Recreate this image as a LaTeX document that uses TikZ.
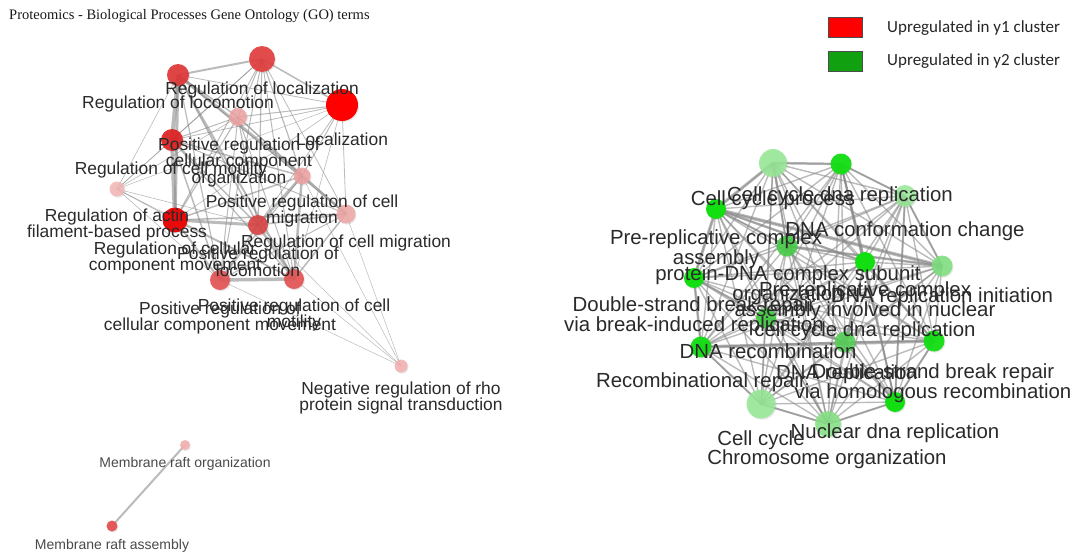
\documentclass[tikz,border=0pt]{standalone}
\usepackage{fontspec}
\setmainfont{Liberation Sans}
\newfontfamily\titlefont{Liberation Serif}
\newfontfamily\legfont{Carlito}
\usetikzlibrary{shadows}
\pgfdeclarelayer{bg}
\pgfdeclarelayer{edges}
\pgfsetlayers{bg,edges,main}
\definecolor{lbl}{HTML}{2A2A2A}
\definecolor{egray}{HTML}{8A8A8A}
\definecolor{rA}{HTML}{E23A3A}
\definecolor{rB}{HTML}{E03434}
\definecolor{rC}{HTML}{FF0000}
\definecolor{rD}{HTML}{EFA3A3}
\definecolor{rE}{HTML}{DE1E1E}
\definecolor{rF}{HTML}{EDA0A0}
\definecolor{rG}{HTML}{F4B6B6}
\definecolor{rH}{HTML}{E80A0A}
\definecolor{rI}{HTML}{D84444}
\definecolor{rJ}{HTML}{F0A6A6}
\definecolor{rK}{HTML}{E45252}
\definecolor{rM}{HTML}{F4B0B0}
\definecolor{gL}{HTML}{94E894}
\definecolor{gM}{HTML}{40CC40}
\definecolor{gS}{HTML}{12DE12}
\definecolor{legred}{HTML}{FF0000}
\definecolor{leggreen}{HTML}{10A010}
\newcommand{\fL}{\fontsize{17.4}{16.5}\selectfont}
\newcommand{\fR}{\fontsize{20.4}{19}\selectfont}
\newcommand{\fS}{\fontsize{14}{16}\selectfont}
\begin{document}
\begin{tikzpicture}[x=1pt,y=-1pt,
  vtx/.style={circle,inner sep=0pt,draw=none,minimum size=#1,
    drop shadow={shadow xshift=1pt,shadow yshift=-1.2pt,opacity=0.18}},
  edgeline/.style={draw=egray,draw opacity=0.58,line width=#1},
  lblL/.style={font=\fL,text=lbl,align=center,inner sep=0pt},
  lblR/.style={font=\fR,text=lbl,align=center,inner sep=0pt},
  lblS/.style={font=\fS,text=lbl!85,align=center,inner sep=0pt},
  legbox/.style={minimum width=34pt,minimum height=20pt,inner sep=0pt,draw=black!70,line width=0.4pt},
  legtxt/.style={font=\legfont\fontsize{17}{19}\selectfont,text=black!85,anchor=west,inner sep=0pt}]
\begin{pgfonlayer}{bg}
\fill[white] (0,0) rectangle (1078,554);
\end{pgfonlayer}
\useasboundingbox (0,0) rectangle (1078,554);

% title
\node[font=\titlefont\fontsize{14.5}{16}\selectfont,anchor=west,inner sep=0pt,text=black!90] (title) at (9,16) {Proteomics - Biological Processes Gene Ontology (GO) terms};

% legend
\node[legbox,fill=legred] (lr) at (845,27) {};
\node[legbox,fill=leggreen] (lg) at (845,61) {};
\node[legtxt] (lrt) at (887,28) {Upregulated in y1 cluster};
\node[legtxt] (lgt) at (887,61) {Upregulated in y2 cluster};

% left cluster nodes
\node[vtx=26pt,fill=rA,fill opacity=0.9] (A) at (262,59) {};
\node[vtx=22pt,fill=rB,fill opacity=0.9] (B) at (178,75) {};
\node[vtx=32pt,fill=rC] (C) at (342,105) {};
\node[vtx=18pt,fill=rD,fill opacity=0.85] (D) at (238,117) {};
\node[vtx=22pt,fill=rE,fill opacity=0.9] (E) at (172,140) {};
\node[vtx=17pt,fill=rF,fill opacity=0.85] (F) at (302,176) {};
\node[vtx=15pt,fill=rG,fill opacity=0.85] (G) at (117,189) {};
\node[vtx=25pt,fill=rH] (H) at (175,220) {};
\node[vtx=20pt,fill=rI,fill opacity=0.9] (I) at (258,225) {};
\node[vtx=19pt,fill=rJ,fill opacity=0.85] (J) at (346,214) {};
\node[vtx=20pt,fill=rK,fill opacity=0.9] (K) at (220,280) {};
\node[vtx=20pt,fill=rK,fill opacity=0.9] (L) at (294,279) {};
\node[vtx=13pt,fill=rM,fill opacity=0.85] (M) at (401,366) {};
\node[vtx=10pt,fill=rM,fill opacity=0.9] (N) at (185,445) {};
\node[vtx=11pt,fill=rK,fill opacity=0.95] (O) at (112,526) {};

% right cluster nodes
\node[vtx=28pt,fill=gL,fill opacity=0.85] (R1) at (773,163) {};
\node[vtx=21pt,fill=gS,fill opacity=0.95] (R2) at (841,164) {};
\node[vtx=22pt,fill=gL,fill opacity=0.8] (R3) at (905,196) {};
\node[vtx=20pt,fill=gS] (R4) at (716,209) {};
\node[vtx=21pt,fill=gM,fill opacity=0.85] (R5) at (787,246) {};
\node[vtx=20pt,fill=gS] (R6) at (865,262) {};
\node[vtx=21pt,fill=gL!70!gM,fill opacity=0.85] (R7) at (942,266) {};
\node[vtx=20pt,fill=gS] (R8) at (694,278) {};
\node[vtx=20pt,fill=gM,fill opacity=0.9] (R9) at (766,318) {};
\node[vtx=21pt,fill=gS,fill opacity=0.95] (R10) at (701,347) {};
\node[vtx=21pt,fill=gM!80!gL,fill opacity=0.85] (R11) at (845,342) {};
\node[vtx=21pt,fill=gS,fill opacity=0.95] (R12) at (934,341) {};
\node[vtx=29pt,fill=gL,fill opacity=0.85] (R13) at (761,404) {};
\node[vtx=20pt,fill=gS] (R14) at (895,402) {};
\node[vtx=26pt,fill=gL!80!gM,fill opacity=0.85] (R15) at (828,424) {};

% edges
\begin{pgfonlayer}{edges}
\foreach \a/\b/\w in {A/B/2,A/C/1.5,A/D/1,A/E/1,A/F/1.2,A/H/1,A/I/1.2,A/J/0.8,A/K/1,A/L/1,A/G/0.6,
  B/C/0.8,B/D/1.5,B/E/4,B/H/3,B/F/3,B/I/1.5,B/K/1.2,B/L/2,B/G/0.6,B/J/1,
  C/D/1,C/E/0.8,C/F/1,C/J/0.8,C/I/0.8,C/L/0.6,C/G/0.5,C/H/0.6,
  D/E/1,D/F/1.2,D/H/1.2,D/I/1.2,D/K/1,D/L/1,D/G/0.6,D/J/0.8,
  E/H/4,E/F/1.5,E/I/1.5,E/K/1.5,E/L/1.2,E/G/0.6,E/J/1,
  F/I/2.5,F/J/2.5,F/L/2.5,F/K/1.2,F/H/1.5,
  G/H/0.8,G/I/0.6,G/K/0.6,G/L/0.5,
  H/I/3,H/K/2,H/L/1.5,H/J/1.5,
  I/J/1.5,I/K/2,I/L/2.5,J/L/1.5,J/K/1,K/L/3.5,
  M/J/0.5,M/F/0.5,M/L/0.5,M/K/0.5,M/I/0.5,N/O/2}
  {\draw[edgeline=\w pt] (\a.center) -- (\b.center);}
\foreach \i in {1,...,14}{
  \pgfmathtruncatemacro\s{\i+1}
  \foreach \j in {\s,...,15}{\draw[edgeline=1.4pt] (R\i.center) -- (R\j.center);}
}
\foreach \a/\b/\w in {1/2/2.5,1/4/3,4/7/3.5,4/8/3,8/10/2.5,10/12/3.5,2/14/2,3/14/2,
  4/6/2.5,6/12/2,5/7/2.5,1/5/2,2/6/2,2/3/2,8/9/2,9/11/2,10/13/2,13/15/2,14/15/2,
  12/14/2,6/11/2,4/5/2,3/7/2,9/15/1.5,11/14/1.5}
  {\draw[edgeline=\w pt] (R\a.center) -- (R\b.center);}
\end{pgfonlayer}

% left labels
\node[lblL] (tA) at (262,90) {Regulation of localization};
\node[lblL] (tB) at (178,104) {Regulation of locomotion};
\node[lblL] (tC) at (342,139) {Localization};
\node[lblL] (tD) at (239,162) {Positive regulation of\\cellular component\\organization};
\node[lblL] (tE) at (171,170) {Regulation of cell motility};
\node[lblL] (tF) at (302,211) {Positive regulation of cell\\migration};
\node[lblL] (tG) at (117,225) {Regulation of actin\\filament-based process};
\node[lblL] (tH) at (175,258) {Regulation of cellular\\component movement};
\node[lblL] (tI) at (258,262) {Positive regulation of\\locomotion};
\node[lblL] (tJ) at (346,243) {Regulation of cell migration};
\node[lblL] (tK) at (220,318) {Positive regulation of\\cellular component movement};
\node[lblL] (tL) at (294,315) {Positive regulation of cell\\motility};
\node[lblL] (tM) at (401,398) {Negative regulation of rho\\protein signal transduction};
\node[lblS] (tN) at (185,464) {Membrane raft organization};
\node[lblS] (tO) at (112,546) {Membrane raft assembly};

% right labels
\node[lblR] (t1) at (773,200) {Cell cycle process};
\node[lblR] (t2) at (840,196) {Cell cycle dna replication};
\node[lblR] (t3) at (905,231) {DNA conformation change};
\node[lblR] (t4) at (716,249) {Pre-replicative complex\\assembly};
\node[lblR] (t5) at (788,285) {protein-DNA complex subunit\\organization};
\node[lblR] (t6) at (865,311) {Pre-replicative complex\\assembly involved in nuclear\\cell cycle dna replication};
\node[lblR] (t7) at (942,297) {DNA replication initiation};
\node[lblR] (t8) at (694,316) {Double-strand break repair\\via break-induced replication};
\node[lblR] (t9) at (768,351) {DNA recombination};
\node[lblR] (t10) at (701,382) {Recombinational repair};
\node[lblR] (t11) at (847,374) {DNA replication};
\node[lblR] (t12) at (933,383) {Double-strand break repair\\via homologous recombination};
\node[lblR] (t13) at (761,440) {Cell cycle};
\node[lblR] (t14) at (895,433) {Nuclear dna replication};
\node[lblR] (t15) at (827,459) {Chromosome organization};
\end{tikzpicture}
\end{document}
